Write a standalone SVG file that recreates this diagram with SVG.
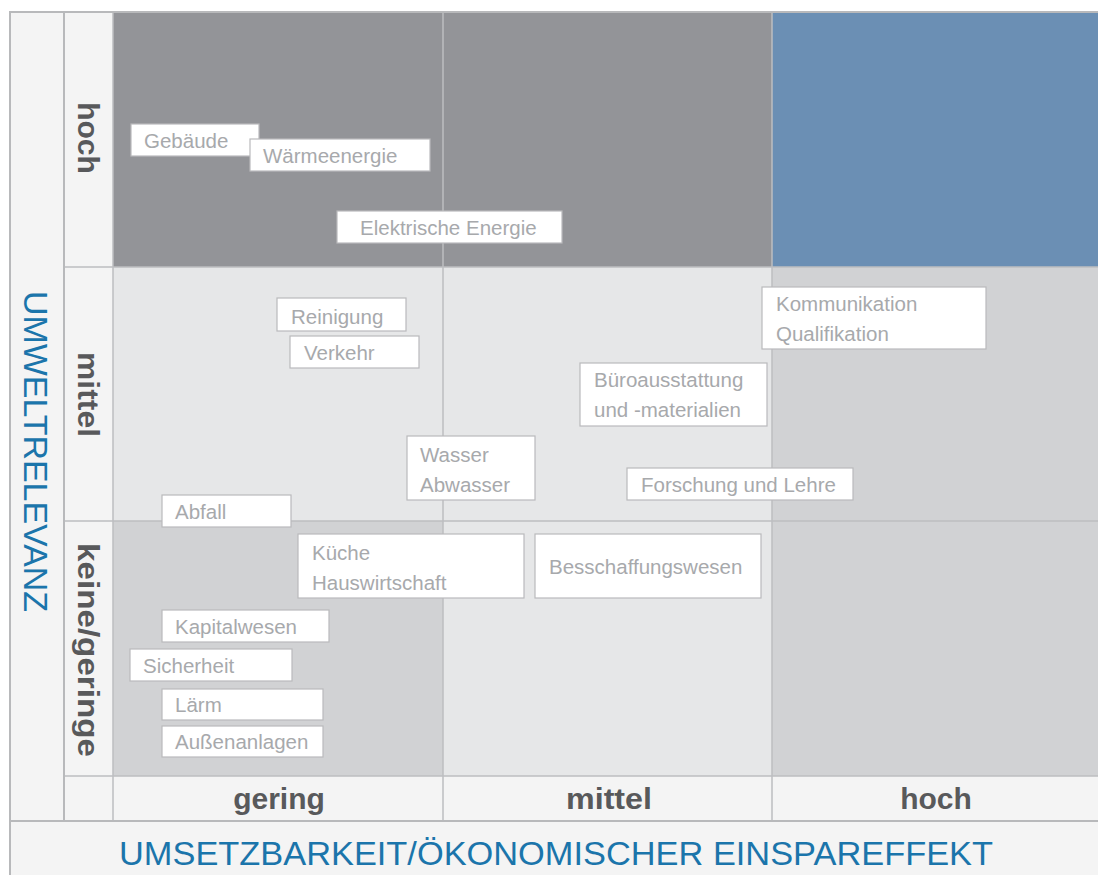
<svg xmlns="http://www.w3.org/2000/svg" width="1098" height="875" viewBox="0 0 1098 875">
<style>
.bg{fill:#f4f4f4}
.dark{fill:#939498}
.blue{fill:#6b8fb4}
.light{fill:#e6e7e8}
.mid{fill:#d1d2d4}
.frame{stroke:#b8b9bb;stroke-width:2;fill:none}
.grid{stroke:#bdbec0;stroke-width:1.5;fill:none}
.box rect{fill:#ffffff;stroke:#b9babc;stroke-width:1.2}
.box text{font-family:"Liberation Sans",Arial,sans-serif;font-size:20.5px;fill:#a7a9ac}
.lab{font-family:"Liberation Sans",Arial,sans-serif;font-size:30px;font-weight:bold;fill:#58595b}
.title{font-family:"Liberation Sans",Arial,sans-serif;font-size:34px;fill:#1b75ab}
</style>
<rect x="0" y="0" width="1098" height="875" fill="#ffffff"/>
<g id="background">
<rect class="bg" x="9" y="11" width="1089" height="864"/>
<rect class="dark" x="113" y="13" width="659" height="254"/>
<rect class="blue" x="772" y="13" width="326" height="254"/>
<rect class="light" x="113" y="267" width="659" height="254"/>
<rect class="mid" x="772" y="267" width="326" height="254"/>
<rect class="mid" x="113" y="521" width="330" height="255"/>
<rect class="light" x="443" y="521" width="329" height="255"/>
<rect class="mid" x="772" y="521" width="326" height="255"/>
</g>
<g id="grid">
<line class="grid" x1="443" y1="13" x2="443" y2="821" stroke="#b3b4b6"/>
<line class="grid" x1="772" y1="13" x2="772" y2="821" stroke="#b3b4b6"/>
<line class="grid" x1="113" y1="13" x2="113" y2="821"/>
<line class="grid" x1="64" y1="267" x2="1098" y2="267"/>
<line class="grid" x1="64" y1="521" x2="1098" y2="521"/>
<line class="grid" x1="64" y1="776" x2="1098" y2="776" stroke-width="2"/>
<line class="frame" x1="64" y1="12" x2="64" y2="821"/>
<line class="frame" x1="9" y1="12" x2="1098" y2="12"/>
<line class="frame" x1="10" y1="11" x2="10" y2="875"/>
<line class="frame" x1="9" y1="821" x2="1098" y2="821"/>
</g>
<g id="axis-labels">
<text class="title" transform="translate(24,291) rotate(90)" textLength="321" lengthAdjust="spacingAndGlyphs">UMWELTRELEVANZ</text>
<text class="title" x="119" y="865" textLength="874" lengthAdjust="spacingAndGlyphs">UMSETZBARKEIT/ÖKONOMISCHER EINSPAREFFEKT</text>
<text class="lab" transform="translate(78,138) rotate(90)" text-anchor="middle">hoch</text>
<text class="lab" transform="translate(78,394.5) rotate(90)" text-anchor="middle" textLength="85" lengthAdjust="spacingAndGlyphs">mittel</text>
<text class="lab" transform="translate(78,650) rotate(90)" text-anchor="middle" textLength="214" lengthAdjust="spacingAndGlyphs">keine/geringe</text>
<text class="lab" x="279" y="809" text-anchor="middle">gering</text>
<text class="lab" x="609" y="809" text-anchor="middle" textLength="86" lengthAdjust="spacingAndGlyphs">mittel</text>
<text class="lab" x="936" y="809" text-anchor="middle">hoch</text>
</g>
<g id="gebaeude" class="box"><rect x="131" y="124" width="128" height="32"/><text x="144" y="148">Gebäude</text></g>
<g id="waermeenergie" class="box"><rect x="250" y="139" width="180" height="32"/><text x="263" y="163">Wärmeenergie</text></g>
<g id="elektrische-energie" class="box"><rect x="337" y="211" width="225" height="32"/><text x="360" y="235">Elektrische Energie</text></g>
<g id="kommunikation" class="box"><rect x="762" y="287" width="224" height="62"/><text x="776" y="311">Kommunikation</text><text x="776" y="341">Qualifikation</text></g>
<g id="reinigung" class="box"><rect x="277" y="298" width="129" height="33"/><text x="291" y="324">Reinigung</text></g>
<g id="verkehr" class="box"><rect x="290" y="336" width="129" height="32"/><text x="304" y="360">Verkehr</text></g>
<g id="bueroausstattung" class="box"><rect x="580" y="363" width="187" height="63"/><text x="594" y="387">Büroausstattung</text><text x="594" y="417">und -materialien</text></g>
<g id="wasser" class="box"><rect x="407" y="436" width="128" height="64"/><text x="420" y="462">Wasser</text><text x="420" y="492">Abwasser</text></g>
<g id="forschung" class="box"><rect x="627" y="468" width="226" height="32"/><text x="641" y="492">Forschung und Lehre</text></g>
<g id="abfall" class="box"><rect x="162" y="495" width="129" height="32"/><text x="175" y="519">Abfall</text></g>
<g id="kueche" class="box"><rect x="298" y="534" width="226" height="64"/><text x="312" y="560">Küche</text><text x="312" y="590">Hauswirtschaft</text></g>
<g id="beschaffungswesen" class="box"><rect x="535" y="534" width="226" height="64"/><text x="549" y="574">Besschaffungswesen</text></g>
<g id="kapitalwesen" class="box"><rect x="162" y="610" width="167" height="32"/><text x="175" y="634">Kapitalwesen</text></g>
<g id="sicherheit" class="box"><rect x="130" y="649" width="162" height="32"/><text x="143" y="673">Sicherheit</text></g>
<g id="laerm" class="box"><rect x="162" y="689" width="161" height="31"/><text x="175" y="712">Lärm</text></g>
<g id="aussenanlagen" class="box"><rect x="162" y="726" width="161" height="31"/><text x="175" y="749">Außenanlagen</text></g>
</svg>
